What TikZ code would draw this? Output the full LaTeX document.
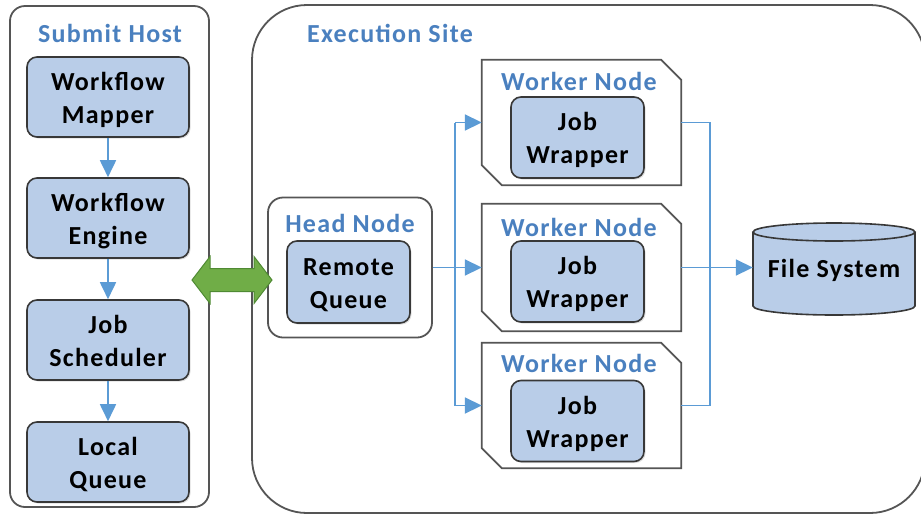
\documentclass[tikz,border=0pt]{standalone}
\usepackage{fontspec}
\setmainfont{Carlito}[LetterSpace=5]
\usetikzlibrary{arrows.meta,shadows,calc}

\definecolor{boxfill}{HTML}{B9CDE8}
\definecolor{boxline}{HTML}{383838}
\definecolor{frameline}{HTML}{555555}
\definecolor{titleblue}{HTML}{4A80BF}
\definecolor{flowblue}{HTML}{5B9BD5}
\definecolor{bidigreen}{HTML}{70AD47}
\definecolor{bidiedge}{HTML}{4F8A33}

% two centred lines, set a little lower than the box centre
\newcommand\pairtext[2]{\raisebox{-3pt}[\height][\depth]{\begin{tabular}{@{}c@{}}#1\\#2\end{tabular}}}

\tikzset{
  unit/.style={draw=boxline, line width=1.6pt, fill=boxfill, rounded corners=10pt,
    align=center, inner sep=0pt, font=\fontsize{26}{33}\selectfont\bfseries,
    drop shadow={shadow xshift=1.5pt, shadow yshift=-1.5pt, opacity=0.25}},
  frame/.style={draw=frameline, line width=1.8pt, fill=white, inner sep=0pt},
  title/.style={text=titleblue, inner sep=0pt, font=\fontsize{26}{30}\selectfont\bfseries},
  holder/.style={inner sep=0pt, minimum width=199pt},
  flow/.style={draw=flowblue, line width=1.8pt, -{Triangle[length=17pt,width=16pt]}},
  link/.style={draw=flowblue, line width=1.8pt},
}

\begin{document}
\begin{tikzpicture}[x=1pt, y=-1pt]
\useasboundingbox (0,0) rectangle (921,515);

% execution site frame (runs past the right edge)
\begin{scope}
  \clip (0,0) rectangle (921,515);
  \draw[frame, rounded corners=55pt] (252,5) rectangle (925,513);
\end{scope}
\node[title] (exectitle) at (390,33) {Execution Site};

% submit host
\node[frame, rounded corners=15pt, minimum width=199pt, minimum height=501pt] (submit) at (109.5,256.5) {};
\node[title] (submittitle) at (110,33) {Submit Host};

\node[unit, minimum width=162pt, minimum height=80pt] (mapper) at (108,97) {\pairtext{Workflow}{Mapper}};
\node[unit, minimum width=162pt, minimum height=80pt] (engine) at (108,218) {\pairtext{Workflow}{Engine}};
\node[unit, minimum width=162pt, minimum height=80pt] (sched) at (108,340) {\pairtext{Job}{Scheduler}};
\node[unit, minimum width=162pt, minimum height=80pt] (local) at (108,462) {\pairtext{Local}{Queue}};

\draw[flow] (mapper) -- (engine);
\draw[flow] (engine) -- (sched);
\draw[flow] (sched) -- (local);

% head node
\node[frame, rounded corners=15pt, minimum width=164pt, minimum height=140pt] (head) at (350,267.5) {};
\node[title] (headtitle) at (350,223) {Head Node};
\node[unit, minimum width=123pt, minimum height=82pt] (remote) at (348.5,282) {\pairtext{Remote}{Queue}};

% worker nodes: chamfered frames
\node[holder, minimum height=125pt] (w1) at (581.5,122.5) {};
\node[holder, minimum height=127pt] (w2) at (581.5,267.5) {};
\node[holder, minimum height=125pt] (w3) at (581.5,405.5) {};
\foreach \w in {w1,w2,w3}{
  \draw[frame] (\w.north west) -- ($(\w.north east)+(-20,0)$) -- ($(\w.north east)+(0,20)$)
    -- (\w.south east) -- ($(\w.south west)+(20,0)$) -- ($(\w.south west)+(0,-20)$) -- cycle;
}
\node[title] (w1title) at (579,81) {Worker Node};
\node[title] (w2title) at (579,227) {Worker Node};
\node[title] (w3title) at (579,363) {Worker Node};
\node[unit, minimum width=133pt, minimum height=81pt] (jw1) at (577.5,137.5) {\pairtext{Job}{Wrapper}};
\node[unit, minimum width=133pt, minimum height=81pt] (jw2) at (577.5,281.5) {\pairtext{Job}{Wrapper}};
\node[unit, minimum width=133pt, minimum height=81pt] (jw3) at (577.5,421) {\pairtext{Job}{Wrapper}};

% file system cylinder
\fill[boxfill] (753,232) -- (753,306) arc[start angle=180, end angle=0, x radius=81, y radius=9]
  -- (915,232) -- cycle;
\draw[draw=boxline, line width=1.6pt] (753,232) -- (753,306)
  arc[start angle=180, end angle=0, x radius=81, y radius=9] -- (915,232);
\draw[draw=boxline, line width=1.6pt, fill=boxfill] (834,232) ellipse [x radius=81, y radius=9];
\node[inner sep=0pt, minimum width=162pt, minimum height=92pt, font=\fontsize{26}{30}\selectfont\bfseries] (fs) at (834,267.5) {\raisebox{-3pt}[\height][\depth]{File System}};

% dispatch from the head node to the workers
\coordinate (split) at (455,0);
\coordinate (merge) at (710,0);
\draw[link] (head.east) -- (head.east -| split);
\draw[link] (split |- w1.west) -- (split |- w3.west);
\draw[flow] (split |- w1.west) -- (w1.west);
\draw[flow] (head.east) -- (w2.west);
\draw[flow] (split |- w3.west) -- (w3.west);

% results gathered into the file system
\draw[link] (w1.east) -- (w1.east -| merge) -- (w3.east -| merge) -- (w3.east);
\draw[flow] (w2.east) -- (fs.west);

% submit host <-> execution site: block double arrow
\coordinate (bl) at (192,280);
\coordinate (br) at (272,280);
\draw[draw=bidiedge, fill=bidigreen, line width=1pt, line join=miter]
  (bl) -- ($(bl)+(18,-23.5)$) -- ($(bl)+(18,-11.5)$) -- ($(br)+(-18,-11.5)$)
  -- ($(br)+(-18,-23.5)$) -- (br) -- ($(br)+(-18,23.5)$) -- ($(br)+(-18,11.5)$)
  -- ($(bl)+(18,11.5)$) -- ($(bl)+(18,23.5)$) -- cycle;
\end{tikzpicture}
\end{document}
